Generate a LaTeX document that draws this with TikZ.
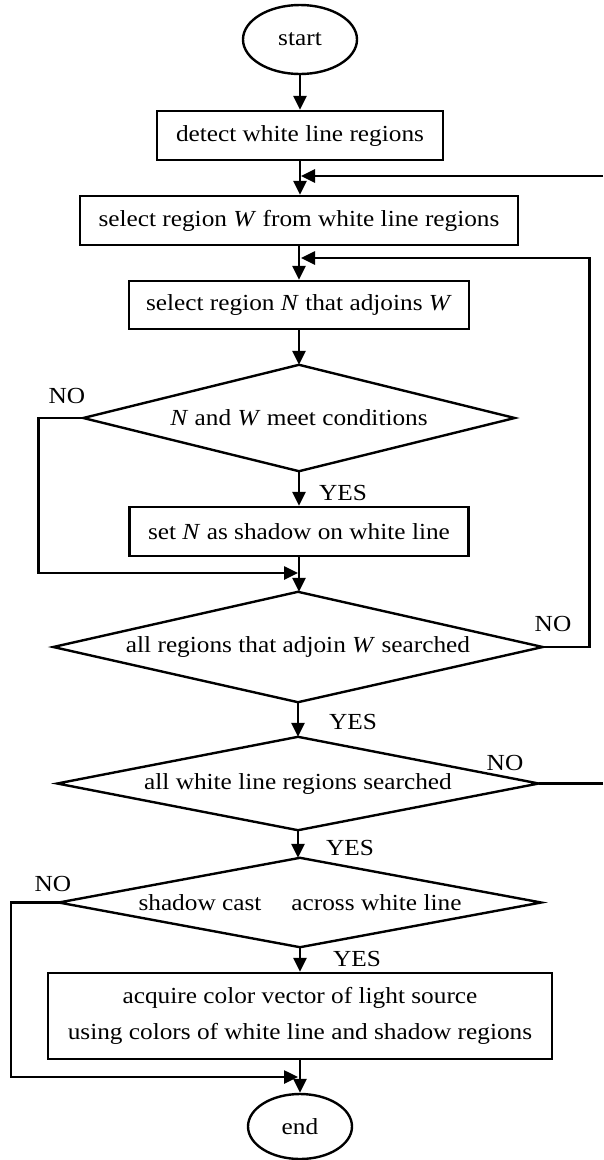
\documentclass[tikz,border=0pt]{standalone}
\usepackage{fontspec}
\setmainfont{Liberation Serif}[FakeStretch=1.1]
\usetikzlibrary{shapes.geometric,arrows.meta}

\begin{document}
\begin{tikzpicture}[x=1pt,y=-1pt,
  every node/.style={font=\fontsize{23}{36}\selectfont},
  procbox/.style={draw, line width=2.4pt, inner sep=0pt, align=center},
  termnode/.style={draw, ellipse, line width=2.4pt, inner sep=0pt},
  decnode/.style={inner sep=0pt, align=center},
  lbl/.style={inner sep=0pt},
  flow/.style={line width=2.6pt, -{Triangle[length=14pt,width=13pt]}},
  plainline/.style={line width=2.6pt},
  decline/.style={line width=2.4pt, line join=miter}
]
\path[use as bounding box, fill=white] (0,0) rectangle (603,1160);

% nodes
\node[termnode, minimum width=114pt, minimum height=69pt] (start) at (300,39.5) {start};
\node[procbox, minimum width=286pt, minimum height=49pt] (detect) at (300,135.5) {detect white line regions};
\node[procbox, minimum width=438pt, minimum height=49pt] (selW) at (299,220.5) {select region \textit{W} from white line regions};
\node[procbox, minimum width=340pt, minimum height=48pt] (selN) at (299,305) {select region \textit{N} that adjoins \textit{W}};
\node[decnode, minimum width=431pt, minimum height=106pt] (d1) at (299,418) {\textit{N} and \textit{W} meet conditions};
\node[procbox, minimum width=339pt, minimum height=49pt] (setN) at (299,531.5) {set \textit{N} as shadow on white line};
\node[decnode, minimum width=489pt, minimum height=110pt] (d2) at (298,647) {all regions that adjoin \textit{W} searched};
\node[decnode, minimum width=481pt, minimum height=93pt] (d3) at (298,783.5) {all white line regions searched};
\node[decnode, minimum width=482pt, minimum height=89pt] (d4) at (300,902.5) {shadow cast\hspace{30pt}across white line};
\node[procbox, minimum width=504pt, minimum height=86pt] (acq) at (300,1016) {acquire color vector of light source\\using colors of white line and shadow regions};
\node[termnode, minimum width=104pt, minimum height=65pt] (end) at (300,1126.5) {end};

% diamonds
\foreach \d in {d1,d2,d3,d4}{
  \draw[decline] (\d.north) -- (\d.east) -- (\d.south) -- (\d.west) -- cycle;
}

% labels
\node[lbl] (no1) at (67,396) {NO};
\node[lbl] (yes1) at (343,493) {YES};
\node[lbl] (no2) at (553,624) {NO};
\node[lbl] (yes2) at (353,722) {YES};
\node[lbl] (no3) at (505,763) {NO};
\node[lbl] (yes3) at (350,848) {YES};
\node[lbl] (no4) at (53,884) {NO};
\node[lbl] (yes4) at (357,959) {YES};

% junction coordinates
\coordinate (fb1) at (301,176);
\coordinate (fb2) at (301,258);
\coordinate (m1) at (298,573);
\coordinate (m2) at (298,1077);
\coordinate (edge1) at (603,176);
\coordinate (edge3) at (603,783.5);

% main flow
\draw[flow] (start.south) -- (start.south |- detect.north);
\draw[flow] (detect.south) -- (detect.south |- selW.north);
\draw[flow] (selW.south) -- (selW.south |- selN.north);
\draw[flow] (selN.south) -- (selN.south |- d1.north);
\draw[flow] (d1.south) -- (d1.south |- setN.north);
\draw[flow] (setN.south) -- (setN.south |- d2.north);
\draw[flow] (d2.south) -- (d2.south |- d3.north);
\draw[flow] (d3.south) -- (d3.south |- d4.north);
\draw[flow] (d4.south) -- (d4.south |- acq.north);
\draw[flow] (acq.south) -- (acq.south |- end.north);

% NO branches
\draw[flow] (d1.west) -- ++(-45,0) |- (m1);
\draw[flow] (d2.east) -- ++(46.5,0) |- (fb2);
\draw[plainline] (d3.east) -- (edge3);
\draw[flow] (edge1) -- (fb1);
\draw[flow] (d4.west) -- ++(-48,0) |- (m2);
\end{tikzpicture}
\end{document}
